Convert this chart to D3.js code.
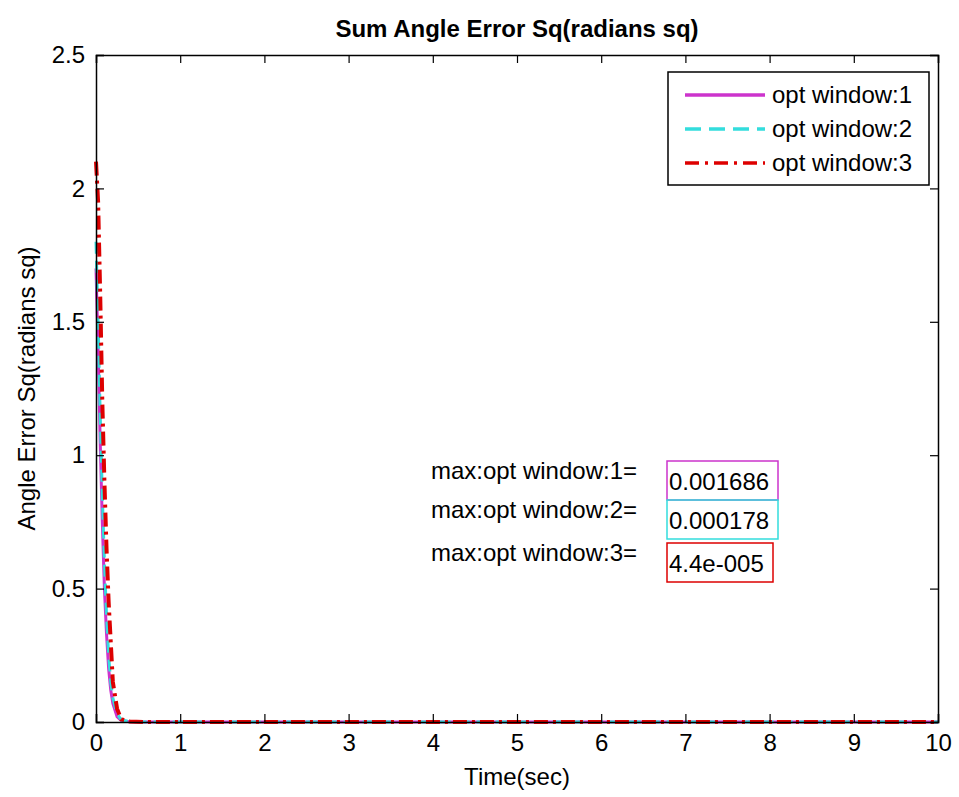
<!DOCTYPE html>
<html>
<head>
<meta charset="utf-8">
<script src="https://cdn.jsdelivr.net/npm/d3@7"></script>
<style>
  body { margin: 0; background: #fff; }
  text { font-family: "Liberation Sans", Arial, sans-serif; }
</style>
</head>
<body>
<svg id="chart" width="959" height="797"></svg>
<script>
// sample times (sec)
const time = [0, 0.025, 0.05, 0.075, 0.1, 0.125, 0.15, 0.175, 0.2, 0.25, 0.3, 0.4, 0.6, 1, 2, 3, 4, 5, 6, 7, 8, 9, 10];
const win1 = [1.7, 1.4, 1.05, 0.75, 0.5, 0.33, 0.2, 0.12, 0.07, 0.02, 0.005, 0.001, 0, 0, 0, 0, 0, 0, 0, 0, 0, 0, 0];
const win2 = [1.8, 1.5, 1.15, 0.85, 0.6, 0.4, 0.25, 0.15, 0.09, 0.03, 0.008, 0.001, 0, 0, 0, 0, 0, 0, 0, 0, 0, 0, 0];
const win3 = [2.1, 1.95, 1.6, 1.2, 0.9, 0.65, 0.45, 0.3, 0.15, 0.05, 0.01, 0.002, 0, 0, 0, 0, 0, 0, 0, 0, 0, 0, 0];
const seriesNames = ["opt window:1", "opt window:2", "opt window:3"];
const maxValues = ["0.001686", "0.000178", "4.4e-005"];
const xTicks = [0, 1, 2, 3, 4, 5, 6, 7, 8, 9, 10];
const yTicks = [0, 0.5, 1, 1.5, 2, 2.5];

const styles = [
  { color: "#cc33cc", dash: null, width: 3 },
  { color: "#33dddd", dash: "12,7", width: 3 },
  { color: "#dd0000", dash: "14,5,3,5", width: 4 }
];

const FS = 24;

const margin = { top: 55, right: 21, bottom: 75, left: 96 },
    W = 959, H = 797,
    w = W - margin.left - margin.right,
    h = H - margin.top - margin.bottom;

const svg = d3.select("#chart");
const g = svg.append("g").attr("transform", `translate(${margin.left},${margin.top})`);

const xScale = d3.scaleLinear().domain([0, 10]).range([0, w]);
const yScale = d3.scaleLinear().domain([0, 2.5]).range([h, 0]);

// lines
const data = [win1, win2, win3];
const line = d3.line().x((d, i) => xScale(time[i])).y(d => yScale(d));
data.forEach((s, k) => {
  g.append("path")
    .datum(s)
    .attr("d", line)
    .attr("fill", "none")
    .attr("stroke", styles[k].color)
    .attr("stroke-width", styles[k].width)
    .attr("stroke-dasharray", styles[k].dash);
});

// axes, MATLAB-like: ticks inside on all sides
const tickLen = 8;
const fmt = d => d3.format("")(d);
const axB = g.append("g").attr("transform", `translate(0,${h})`)
  .call(d3.axisBottom(xScale).tickValues(xTicks).tickSize(-tickLen).tickPadding(12).tickFormat(fmt));
const axT = g.append("g")
  .call(d3.axisTop(xScale).tickValues(xTicks).tickSize(-tickLen).tickFormat(""));
const axL = g.append("g")
  .call(d3.axisLeft(yScale).tickValues(yTicks).tickSize(-tickLen).tickPadding(11).tickFormat(fmt));
const axR = g.append("g").attr("transform", `translate(${w},0)`)
  .call(d3.axisRight(yScale).tickValues(yTicks).tickSize(-tickLen).tickFormat(""));
[axB, axT, axL, axR].forEach(a => {
  a.select(".domain").attr("stroke", "#000").attr("stroke-width", 1.5);
  a.selectAll(".tick line").attr("stroke", "#000").attr("stroke-width", 1.2);
  a.selectAll("text").attr("font-size", FS).attr("fill", "#000")
    .style("font-family", '"Liberation Sans", Arial, sans-serif');
});
axB.selectAll("text").attr("dy", "0.72em");

// title and labels
svg.append("text").attr("x", margin.left + w / 2).attr("y", 37)
  .attr("text-anchor", "middle").attr("font-size", FS).attr("font-weight", "bold")
  .text("Sum Angle Error Sq(radians sq)");
svg.append("text").attr("x", margin.left + w / 2).attr("y", 785)
  .attr("text-anchor", "middle").attr("font-size", FS)
  .text("Time(sec)");
svg.append("text").attr("transform", `translate(35,${margin.top + h / 2}) rotate(-90)`)
  .attr("text-anchor", "middle").attr("font-size", FS)
  .text("Angle Error Sq(radians sq)");

// legend
const leg = svg.append("g").attr("transform", "translate(668,72)");
leg.append("rect").attr("width", 261).attr("height", 113)
  .attr("fill", "#fff").attr("stroke", "#000").attr("stroke-width", 1.5);
seriesNames.forEach((n, k) => {
  const y = 23 + k * 34;
  leg.append("line").attr("x1", 17).attr("x2", 97).attr("y1", y).attr("y2", y)
    .attr("stroke", styles[k].color).attr("stroke-width", 3.5)
    .attr("stroke-dasharray", k === 1 ? "16,8" : (k === 2 ? "14,6,3,6" : null));
  leg.append("text").attr("x", 104).attr("y", y).attr("dy", "0.35em")
    .attr("font-size", FS).text(n);
});

// max annotations
const boxY = [461, 500, 543];
const boxW = [111, 111, 106];
maxValues.forEach((v, k) => {
  svg.append("text").attr("x", 637).attr("y", boxY[k] + 10).attr("dy", "0.35em")
    .attr("text-anchor", "end").attr("font-size", FS)
    .text(`max:${seriesNames[k]}=`);
  svg.append("rect").attr("x", 667).attr("y", boxY[k]).attr("width", boxW[k]).attr("height", 39)
    .attr("fill", "none").attr("stroke", styles[k].color).attr("stroke-width", 1.5);
  svg.append("text").attr("x", 669).attr("y", boxY[k] + 21).attr("dy", "0.35em")
    .attr("font-size", FS).text(v);
});
</script>
</body>
</html>
